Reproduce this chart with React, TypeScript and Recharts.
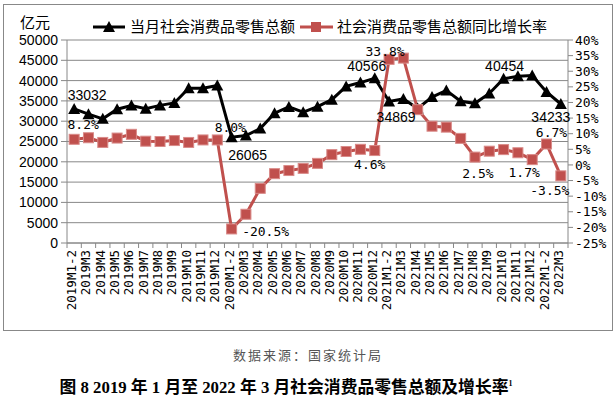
import React from 'react'
import { ComposedChart, Line, XAxis, YAxis, CartesianGrid, LabelList } from 'recharts'

const categories = [
  '2019M1-2', '2019M3', '2019M4', '2019M5', '2019M6', '2019M7', '2019M8', '2019M9', '2019M10', '2019M11', '2019M12',
  '2020M1-2', '2020M3', '2020M4', '2020M5', '2020M6', '2020M7', '2020M8', '2020M9', '2020M10', '2020M11', '2020M12',
  '2021M1-2', '2021M3', '2021M4', '2021M5', '2021M6', '2021M7', '2021M8', '2021M9', '2021M10', '2021M11', '2021M12',
  '2022M1-2', '2022M3',
]
const retailSales = [
  33032, 31726, 30586, 32956, 33878, 33073, 33896, 34495, 38104, 38094, 38777,
  26065, 26450, 28178, 31973, 33526, 32203, 33571, 35295, 38576, 39514, 40566,
  34869, 35484, 33153, 35945, 37586, 34925, 34395, 36833, 40454, 41043, 41269,
  37213, 34233,
]
const growthRate = [
  8.2, 8.7, 7.2, 8.6, 9.8, 7.6, 7.5, 7.8, 7.2, 8.0, 8.0,
  -20.5, -15.8, -7.5, -2.8, -1.8, -1.1, 0.5, 3.3, 4.3, 5.0, 4.6,
  33.8, 34.2, 17.7, 12.4, 12.1, 8.5, 2.5, 4.4, 4.9, 3.9, 1.7,
  6.7, -3.5,
]
const leftTicks = [0, 5000, 10000, 15000, 20000, 25000, 30000, 35000, 40000, 45000, 50000]
const rightTicks = [-25, -20, -15, -10, -5, 0, 5, 10, 15, 20, 25, 30, 35, 40]

// which points get a value label, and where it sits relative to the point
const salesLabels: Record<number, { dx: number; dy: number }> = {
  0: { dx: 13, dy: -14 },
  11: { dx: 16, dy: 18 },
  21: { dx: -8, dy: -12 },
  22: { dx: 7, dy: 16 },
  30: { dx: 1, dy: -13 },
  34: { dx: -10, dy: 13 },
}
const rateLabels: Record<number, { dx: number; dy: number }> = {
  0: { dx: 9, dy: -15 },
  10: { dx: 13, dy: -12 },
  11: { dx: 34, dy: 3 },
  21: { dx: -5, dy: 14 },
  22: { dx: -4, dy: -8 },
  28: { dx: 3, dy: 16 },
  32: { dx: -8, dy: 13 },
  33: { dx: 5, dy: -11 },
  34: { dx: -11, dy: 15 },
}

const RED = '#c0504d'
const GRID = '#888888'
const BAND = 501 / categories.length

const data = categories.map((c, i) => ({ month: c, sales: retailSales[i], rate: growthRate[i] }))

const Triangle = ({ cx, cy, index }: any) => (
  <polygon key={index} points={`${cx},${cy - 6} ${cx - 6},${cy + 5} ${cx + 6},${cy + 5}`} fill="#000" />
)
const Square = ({ cx, cy, index }: any) => (
  <rect key={index} x={cx - 5} y={cy - 5} width={10} height={10} fill={RED} stroke="#d98a88" strokeWidth={1} />
)

const XTick = ({ x, payload, index }: any) => (
  <g>
    <line x1={x - BAND / 2} x2={x - BAND / 2} y1={243} y2={248} stroke={GRID} />
    {index === categories.length - 1 && <line x1={x + BAND / 2} x2={x + BAND / 2} y1={243} y2={248} stroke={GRID} />}
    <text transform={`translate(${x + 2},${250}) rotate(-90)`} textAnchor="end" fontSize={12.5}
      fontFamily="'DejaVu Sans Mono', monospace" fill="#000">{payload.value}</text>
  </g>
)

const makeLabel = (cfg: Record<number, { dx: number; dy: number }>, fmt: (v: number) => string, mono: boolean) =>
  (props: any) => {
    const { x, y, value, index } = props
    const c = cfg[index]
    if (!c) return null
    return (
      <text key={index} x={x + c.dx} y={y + c.dy} textAnchor="middle" dominantBaseline="central"
        fontSize={mono ? 13 : 14} fontFamily={mono ? "'DejaVu Sans Mono', monospace" : "'Liberation Sans', Arial, sans-serif"}
        fill="#000">{fmt(value)}</text>
    )
  }

export default function App() {
  return (
    <div style={{ position: 'absolute', left: 0, top: 0, width: 616, height: 396, background: '#fff' }}>
      <div style={{ position: 'absolute', left: 3, top: 4, width: 608, height: 325, border: `1px solid ${GRID}` }} />
      <div style={{ position: 'absolute', left: 20, top: 11, fontSize: 15, fontFamily: "'Noto Sans CJK SC', sans-serif" }}>亿元</div>
      <svg style={{ position: 'absolute', left: 0, top: 0 }} width={616} height={50}>
        <line x1={93} x2={125} y1={27} y2={27} stroke="#000" strokeWidth={3} />
        <polygon points="109,21 103,32 115,32" fill="#000" />
        <text x={130} y={32} fontSize={15} fontFamily="'Noto Sans CJK SC', sans-serif">当月社会消费品零售总额</text>
        <line x1={300} x2={333} y1={27} y2={27} stroke={RED} strokeWidth={3} />
        <rect x={311} y={22} width={10} height={10} fill={RED} />
        <text x={337} y={32} fontSize={15} fontFamily="'Noto Sans CJK SC', sans-serif">社会消费品零售总额同比增长率</text>
      </svg>
      <div style={{ position: 'absolute', left: 0, top: 0 }}>
        <ComposedChart width={616} height={330} data={data} margin={{ top: 40, right: 0, bottom: 0, left: 0 }}>
          <CartesianGrid yAxisId="left" vertical={false} stroke={GRID} />
          <XAxis dataKey="month" scale="band" height={87} interval={0} tick={<XTick />} tickLine={false} axisLine={{ stroke: GRID }} />
          <YAxis yAxisId="left" width={67} domain={[0, 50000]} ticks={leftTicks} interval={0}
            tick={{ fontSize: 14, fill: '#000', fontFamily: "'Liberation Sans', Arial, sans-serif" }}
            tickLine={{ stroke: GRID }} tickSize={6} tickMargin={3} axisLine={{ stroke: GRID }} />
          <YAxis yAxisId="right" orientation="right" width={48} domain={[-25, 40]} ticks={rightTicks} interval={0}
            tickFormatter={(v: number) => `${v}%`}
            tick={{ fontSize: 13, fill: '#000', fontFamily: "'DejaVu Sans Mono', monospace" }}
            tickLine={{ stroke: GRID }} tickSize={5} axisLine={{ stroke: GRID }} />
          <Line yAxisId="left" dataKey="sales" stroke="#000" strokeWidth={3} dot={<Triangle />} isAnimationActive={false}>
            <LabelList dataKey="sales" content={makeLabel(salesLabels, (v) => String(v), false)} />
          </Line>
          <Line yAxisId="right" dataKey="rate" stroke={RED} strokeWidth={3} dot={<Square />} isAnimationActive={false}>
            <LabelList dataKey="rate" content={makeLabel(rateLabels, (v) => `${v.toFixed(1)}%`, true)} />
          </Line>
        </ComposedChart>
      </div>
      <div style={{ position: 'absolute', left: 0, width: 616, top: 345, textAlign: 'center', fontSize: 13, color: '#555',
        letterSpacing: 2, fontFamily: "'Noto Sans CJK SC', sans-serif" }}>数据来源：国家统计局</div>
      <div style={{ position: 'absolute', left: 0, width: 572, top: 374, textAlign: 'center', fontSize: 16.8, fontWeight: 'bold',
        fontFamily: "'Liberation Serif', 'Noto Sans CJK SC', serif", whiteSpace: 'nowrap' }}>
        图 8 2019 年 1 月至 2022 年 3 月社会消费品零售总额及增长率<sup style={{ fontSize: 8 }}>1</sup>
      </div>
    </div>
  )
}
